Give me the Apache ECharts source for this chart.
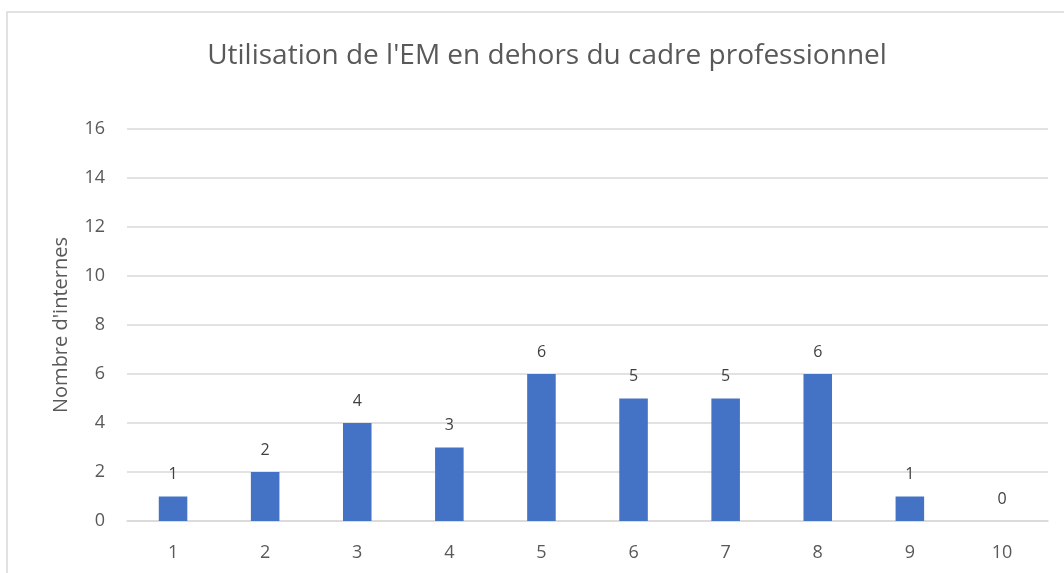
<!DOCTYPE html>
<html>
<head>
<meta charset="utf-8">
<script src="https://cdn.jsdelivr.net/npm/echarts@6/dist/echarts.min.js"></script>
<style>
  html, body { margin: 0; padding: 0; background: #fff; }
  #chart { width: 1064px; height: 573px; }
</style>
</head>
<body>
<div id="chart"></div>
<script>
const categories = ['1', '2', '3', '4', '5', '6', '7', '8', '9', '10'];
const counts = [1, 2, 4, 3, 6, 5, 5, 6, 1, 0];
const yTicks = [0, 2, 4, 6, 8, 10, 12, 14, 16];

const textColor = '#595959';
const chart = echarts.init(document.getElementById('chart'));

chart.setOption({
  backgroundColor: '#fff',
  animation: false,
  textStyle: { fontFamily: 'Open Sans, sans-serif' },
  title: {
    text: "Utilisation de l'EM en dehors du cadre professionnel",
    left: 542,
    textAlign: 'center',
    top: 37,
    textStyle: { color: textColor, fontSize: 28, fontWeight: 'normal' }
  },
  graphic: [{
    type: 'polyline',
    shape: { points: [[7, 580], [7, 12], [1070, 12]] },
    style: { stroke: '#d9d9d9', lineWidth: 1.5, fill: null }
  }],
  grid: { left: 127, right: 16, top: 129, bottom: 52 },
  xAxis: {
    type: 'category',
    data: categories,
    axisLine: { lineStyle: { color: '#d9d9d9', width: 1.5 } },
    axisTick: { show: false },
    axisLabel: { color: textColor, fontSize: 18, margin: 23 }
  },
  yAxis: {
    type: 'value',
    min: yTicks[0],
    max: yTicks[yTicks.length - 1],
    interval: 2,
    name: "Nombre d'internes",
    nameLocation: 'middle',
    nameGap: 56,
    nameTextStyle: { color: textColor, fontSize: 20 },
    axisLine: { show: false },
    axisTick: { show: false },
    axisLabel: { color: textColor, fontSize: 18, margin: 22 },
    splitLine: { lineStyle: { color: '#d9d9d9', width: 1.5 } }
  },
  series: [{
    type: 'bar',
    data: counts,
    barWidth: '31%',
    itemStyle: { color: '#4472C4' },
    label: {
      show: true,
      position: 'top',
      distance: 14,
      color: '#404040',
      fontSize: 16
    }
  }]
});
</script>
</body>
</html>
